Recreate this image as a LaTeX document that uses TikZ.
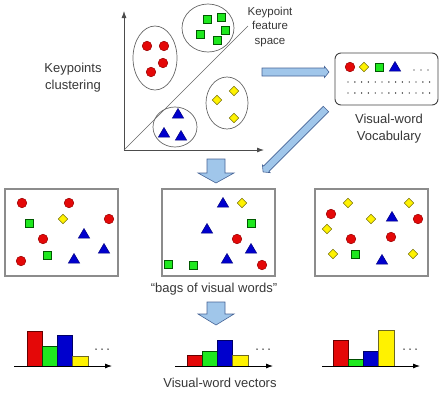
\documentclass[tikz,border=0pt]{standalone}
\usepackage{fontspec}
\setmainfont{Liberation Sans}
\usetikzlibrary{arrows.meta}

\definecolor{ptred}{RGB}{228,8,8}
\definecolor{ptgreen}{RGB}{30,232,30}
\definecolor{ptyellow}{RGB}{255,242,0}
\definecolor{ptblue}{RGB}{0,0,205}
\definecolor{arrfill}{RGB}{160,198,234}
\definecolor{arrline}{RGB}{70,100,150}
\definecolor{txtgray}{RGB}{55,55,55}

\tikzset{
    redpt/.style={fill=ptred,draw=red!60!black,line width=0.5pt},
    greenpt/.style={fill=ptgreen,draw=green!35!black,line width=0.5pt},
    yellowpt/.style={fill=ptyellow,draw=olive!80!black,line width=0.5pt},
    bluept/.style={fill=ptblue,draw=blue!50!black,line width=0.5pt},
    cluster/.style={draw=black!60,line width=0.7pt},
    bagbox/.style={draw=black!45,line width=1.1pt},
    fatarr/.style={fill=arrfill,draw=arrline,line width=0.6pt},
    axis/.style={draw=black!70,line width=0.8pt,-{Latex[length=7pt,width=5pt]}},
    label/.style={text=txtgray,align=center,font=\fontsize{13}{17}\selectfont},
}

\newcommand{\kpcirc}[2]{\draw[redpt] (#1,#2) circle (4.8);}
\newcommand{\kpsq}[2]{\draw[greenpt] (#1,#2) +(-4,-4) rectangle +(4,4);}
\newcommand{\kpdiam}[2]{\draw[yellowpt] (#1,#2) +(0,-4.8) -- +(4.8,0) -- +(0,4.8) -- +(-4.8,0) -- cycle;}
\newcommand{\kptri}[2]{\draw[bluept] (#1,#2) +(0,-5.5) -- +(5.6,4) -- +(-5.6,4) -- cycle;}
\newcommand{\fatarrow}[7]{%
    \begin{scope}[shift={(#1,#2)},rotate=#3]
        \draw[fatarr] (0,-#5) -- (#4-#7,-#5) -- (#4-#7,-#6) -- (#4,0)
            -- (#4-#7,#6) -- (#4-#7,#5) -- (0,#5) -- cycle;
    \end{scope}}
\newcommand{\histo}[6]{%
    \draw[barred] (#1+#2,366) rectangle +(15,-#3);
    \draw[bargreen] (#1+#2+15,366) rectangle +(15,-#4);
    \draw[barblue] (#1+#2+30,366) rectangle +(15,-#5);
    \draw[baryellow] (#1+#2+45,366) rectangle +(16,-#6);
    \draw[draw=black,line width=0.8pt,-{Latex[length=7pt,width=5pt]}] (#1,366) -- (#1+98,366);
    \foreach \d in {82,88,94} \fill (#1+\d,349) circle (0.75);}
\tikzset{
    barred/.style={fill=ptred,draw=red!40!black,line width=0.5pt},
    bargreen/.style={fill=ptgreen,draw=green!30!black,line width=0.5pt},
    barblue/.style={fill=ptblue,draw=blue!40!black,line width=0.5pt},
    baryellow/.style={fill=ptyellow,draw=olive!70!black,line width=0.5pt},
}

\begin{document}
\begin{tikzpicture}[x=1pt,y=-1pt]
    \useasboundingbox (0,0) rectangle (444,400);
    \coordinate (O) at (124,150);
    \coordinate (Y) at (124,11);
    \coordinate (X) at (264,150);
    \coordinate (D) at (248,26);
    \draw[axis] (O) -- (Y);
    \draw[axis] (O) -- (X);
    \draw[draw=black!60,line width=0.6pt] (O) -- (D);
    \node[label] (clust) at (73,78) {Keypoints\\clustering};
    \node[label,font=\fontsize{11.5}{14.5}\selectfont] (space) at (270,27) {Keypoint\\feature\\space};
    % clusters
    \draw[cluster] (155,58) ellipse (22 and 32);
    \draw[cluster] (208,28) ellipse (26 and 24);
    \draw[cluster] (227,103) ellipse (21 and 26);
    \draw[cluster] (175,127) ellipse (22 and 20);
    \kpcirc{147}{46} \kpcirc{164}{46} \kpcirc{163}{63} \kpcirc{151}{72}
    \kpsq{207}{19} \kpsq{221}{17} \kpsq{225}{30} \kpsq{200}{34} \kpsq{217}{40}
    \kpdiam{234}{91} \kpdiam{217}{100} \kpdiam{234}{118}
    \kptri{178}{114} \kptri{164}{133} \kptri{181}{136}
    % vocabulary
    \draw[draw=black!75,line width=0.9pt,rounded corners=6pt] (335,53) rectangle (438,105);
    \kpcirc{350}{67} \kpdiam{364}{67} \kpsq{379}{67} \kptri{395}{67}
    \foreach \d in {414,421,428} \fill (\d,70) circle (0.7);
    \foreach \i in {0,...,12} {
        \fill (348+\i*6.8,82) circle (0.7);
        \fill (348+\i*6.8,93) circle (0.7);
    }
    \node[label] (vocab) at (389,129) {Visual-word\\Vocabulary};
    \fatarrow{262}{72}{0}{67}{4}{5.5}{4.5}
    \fatarrow{326}{109}{225}{89}{3.8}{5.5}{4.5}
    \fatarrow{216}{159}{-90}{24}{9}{18}{10}
    % bags
    \draw[bagbox] (5,189) rectangle (118,276);
    \draw[bagbox] (162,189) rectangle (275,276);
    \draw[bagbox] (315,189) rectangle (428,276);
    \kpcirc{22}{203} \kpcirc{69}{203} \kpcirc{109}{219} \kpsq{29}{223} \kpdiam{63}{219}
    \kpcirc{43}{239} \kptri{84}{234} \kptri{104}{249} \kpsq{47}{255} \kpcirc{21}{261}
    \kptri{74}{259}
    \kptri{223}{203} \kpdiam{242}{203} \kpsq{251}{223} \kptri{207}{229} \kpcirc{237}{239}
    \kptri{251}{249} \kptri{227}{259} \kpsq{168}{264} \kpsq{193}{265} \kpcirc{262}{265}
    \kpdiam{348}{203} \kpdiam{409}{203} \kpcirc{331}{214} \kpdiam{371}{219} \kptri{392}{217}
    \kpcirc{418}{219} \kpdiam{327}{229} \kpcirc{351}{239} \kpcirc{391}{237}
    \kpdiam{333}{254} \kpsq{355}{254} \kptri{382}{260} \kpdiam{413}{254}
    \node[label] (bags) at (214,289) {“bags of visual words”};
    \fatarrow{216}{302}{-90}{23}{9}{18}{11}
    % vectors
    \histo{14}{13}{35}{20}{31}{10}
    \histo{175}{12}{11}{15}{26}{11}
    \histo{322}{11}{26}{7}{15}{36}
    \node[label] (vec) at (220,383) {Visual-word vectors};
\end{tikzpicture}
\end{document}
